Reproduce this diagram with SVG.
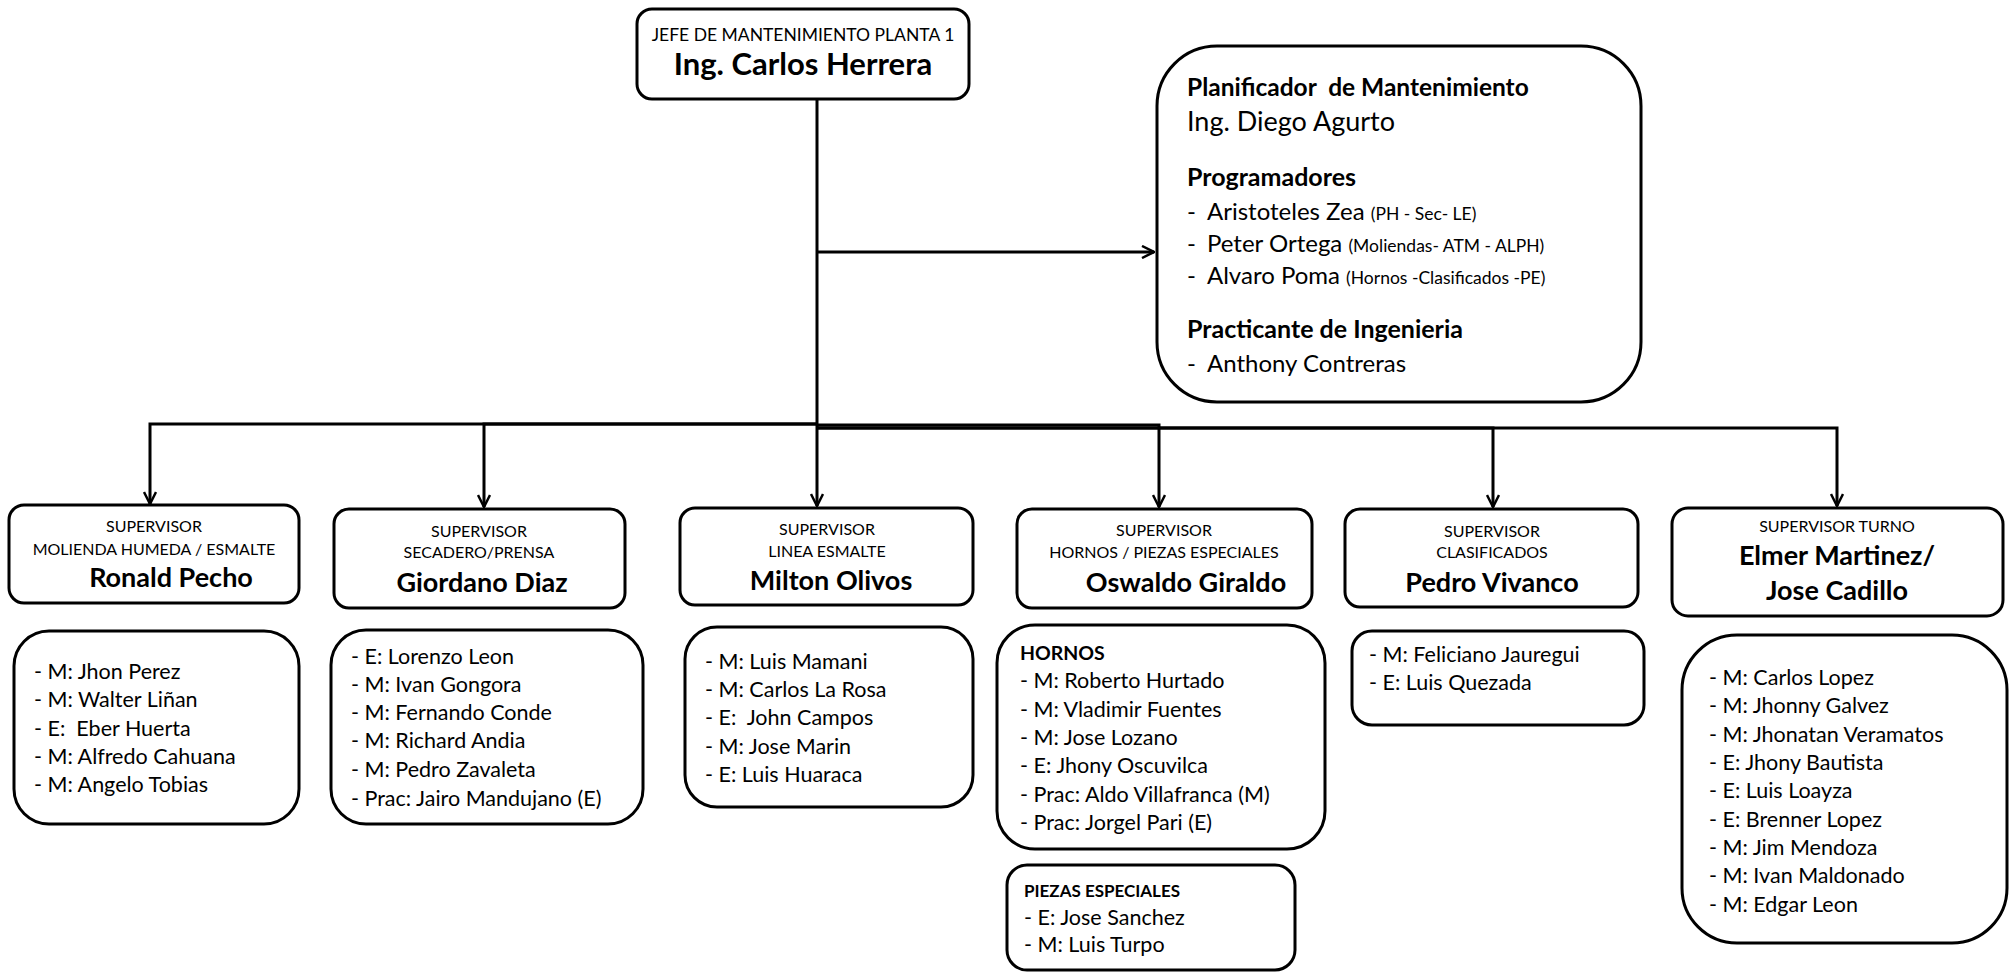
<svg xmlns="http://www.w3.org/2000/svg" width="2015" height="972" viewBox="0 0 2015 972">
<style>
.box{fill:#fff;stroke:#000;stroke-width:3}
.conn{fill:none;stroke:#000;stroke-width:3}
text{font-family:Lato,"Open Sans",sans-serif;fill:#000}
.sm{font-size:16px;text-anchor:middle}
.nm{font-size:27px;font-weight:bold;text-anchor:middle}
.li{font-size:21.5px}
.hd{font-size:19.5px;font-weight:bold}
.pb{font-size:25px;font-weight:bold}
.pr{font-size:24px}
.an{font-size:17.5px}
</style>
<defs>
<marker id="arr" viewBox="0 0 14 14" markerWidth="14" markerHeight="14" refX="13" refY="7" orient="auto" markerUnits="userSpaceOnUse">
<path d="M1,1 L13,7 L1,13" fill="none" stroke="#000" stroke-width="2.5"/>
</marker>
</defs>
<g id="connectors">
<path class="conn" d="M817,100 V506" marker-end="url(#arr)"/>
<path class="conn" d="M817,424 H150 V504" marker-end="url(#arr)"/>
<path class="conn" d="M817,424 H484 V507" marker-end="url(#arr)"/>
<path class="conn" d="M817,425 H1159 V507" marker-end="url(#arr)"/>
<path class="conn" d="M817,428 H1493 V507" marker-end="url(#arr)"/>
<path class="conn" d="M817,428 H1837 V506" marker-end="url(#arr)"/>
<path class="conn" d="M817,252 H1154" marker-end="url(#arr)"/>
</g>
<g id="jefe">
<rect class="box" x="637" y="9" width="332" height="90" rx="15"/>
<text class="sm" x="803" y="41" style="font-size:17.5px">JEFE DE MANTENIMIENTO PLANTA 1</text>
<text class="nm" x="803" y="75" style="font-size:31px">Ing. Carlos Herrera</text>
</g>
<g id="planificador">
<rect class="box" x="1157" y="46" width="484" height="356" rx="60"/>
<text x="1187" y="96" style="font-size:24.5px;font-weight:bold" xml:space="preserve">Planificador  de Mantenimiento</text>
<text x="1187" y="131" style="font-size:27px">Ing. Diego Agurto</text>
<text class="pb" x="1187" y="186">Programadores</text>
<text class="pr" x="1187" y="220">-</text><text class="pr" x="1207" y="220">Aristoteles Zea <tspan class="an">(PH - Sec- LE)</tspan></text>
<text class="pr" x="1187" y="252">-</text><text class="pr" x="1207" y="252">Peter Ortega <tspan class="an">(Moliendas- ATM - ALPH)</tspan></text>
<text class="pr" x="1187" y="284">-</text><text class="pr" x="1207" y="284">Alvaro Poma <tspan class="an">(Hornos -Clasificados -PE)</tspan></text>
<text class="pb" x="1187" y="338">Practicante de Ingenieria</text>
<text class="pr" x="1187" y="372">-</text><text class="pr" x="1207" y="372">Anthony Contreras</text>
</g>
<g id="sup-ronald">
<rect class="box" x="9" y="505" width="290" height="98" rx="15"/>
<text class="sm" x="154" y="532">SUPERVISOR</text>
<text class="sm" x="154" y="555">MOLIENDA HUMEDA / ESMALTE</text>
<text class="nm" x="171" y="587">Ronald Pecho</text>
</g>
<g id="team-ronald">
<rect class="box" x="14" y="631" width="285" height="193" rx="35"/>
<text class="li" x="34" y="679">- M: Jhon Perez</text>
<text class="li" x="34" y="707">- M: Walter Liñan</text>
<text class="li" x="34" y="736" xml:space="preserve">- E:  Eber Huerta</text>
<text class="li" x="34" y="764">- M: Alfredo Cahuana</text>
<text class="li" x="34" y="792">- M: Angelo Tobias</text>
</g>
<g id="sup-giordano">
<rect class="box" x="334" y="509" width="291" height="99" rx="15"/>
<text class="sm" x="479" y="537">SUPERVISOR</text>
<text class="sm" x="479" y="558">SECADERO/PRENSA</text>
<text class="nm" x="482" y="592">Giordano Diaz</text>
</g>
<g id="team-giordano">
<rect class="box" x="331" y="630" width="312" height="194" rx="35"/>
<text class="li" x="351" y="664">- E: Lorenzo Leon</text>
<text class="li" x="351" y="692">- M: Ivan Gongora</text>
<text class="li" x="351" y="720">- M: Fernando Conde</text>
<text class="li" x="351" y="748">- M: Richard Andia</text>
<text class="li" x="351" y="777">- M: Pedro Zavaleta</text>
<text class="li" x="351" y="806">- Prac: Jairo Mandujano (E)</text>
</g>
<g id="sup-milton">
<rect class="box" x="680" y="508" width="293" height="97" rx="15"/>
<text class="sm" x="827" y="535">SUPERVISOR</text>
<text class="sm" x="827" y="557">LINEA ESMALTE</text>
<text class="nm" x="831" y="590">Milton Olivos</text>
</g>
<g id="team-milton">
<rect class="box" x="685" y="627" width="288" height="180" rx="32"/>
<text class="li" x="705" y="669">- M: Luis Mamani</text>
<text class="li" x="705" y="697">- M: Carlos La Rosa</text>
<text class="li" x="705" y="725" xml:space="preserve">- E:  John Campos</text>
<text class="li" x="705" y="754">- M: Jose Marin</text>
<text class="li" x="705" y="782">- E: Luis Huaraca</text>
</g>
<g id="sup-oswaldo">
<rect class="box" x="1017" y="509" width="295" height="99" rx="15"/>
<text class="sm" x="1164" y="536">SUPERVISOR</text>
<text class="sm" x="1164" y="558">HORNOS / PIEZAS ESPECIALES</text>
<text class="nm" x="1186" y="592">Oswaldo Giraldo</text>
</g>
<g id="team-hornos">
<rect class="box" x="997" y="625" width="328" height="224" rx="38"/>
<text class="hd" x="1020" y="660">HORNOS</text>
<text class="li" x="1020" y="688">- M: Roberto Hurtado</text>
<text class="li" x="1020" y="717">- M: Vladimir Fuentes</text>
<text class="li" x="1020" y="745">- M: Jose Lozano</text>
<text class="li" x="1020" y="773">- E: Jhony Oscuvilca</text>
<text class="li" x="1020" y="802">- Prac: Aldo Villafranca (M)</text>
<text class="li" x="1020" y="830">- Prac: Jorgel Pari (E)</text>
</g>
<g id="team-piezas">
<rect class="box" x="1007" y="865" width="288" height="105" rx="20"/>
<text class="hd" x="1024" y="897" style="font-size:17px">PIEZAS ESPECIALES</text>
<text class="li" x="1024" y="925">- E: Jose Sanchez</text>
<text class="li" x="1024" y="952">- M: Luis Turpo</text>
</g>
<g id="sup-pedro">
<rect class="box" x="1345" y="509" width="293" height="98" rx="15"/>
<text class="sm" x="1492" y="537">SUPERVISOR</text>
<text class="sm" x="1492" y="558">CLASIFICADOS</text>
<text class="nm" x="1492" y="592">Pedro Vivanco</text>
</g>
<g id="team-pedro">
<rect class="box" x="1352" y="631" width="292" height="94" rx="20"/>
<text class="li" x="1369" y="662">- M: Feliciano Jauregui</text>
<text class="li" x="1369" y="690">- E: Luis Quezada</text>
</g>
<g id="sup-elmer">
<rect class="box" x="1672" y="508" width="331" height="108" rx="16"/>
<text class="sm" x="1837" y="532">SUPERVISOR TURNO</text>
<text class="nm" x="1837" y="565">Elmer Martinez/</text>
<text class="nm" x="1837" y="600">Jose Cadillo</text>
</g>
<g id="team-elmer">
<rect class="box" x="1682" y="635" width="325" height="308" rx="55"/>
<text class="li" x="1709" y="685">- M: Carlos Lopez</text>
<text class="li" x="1709" y="713">- M: Jhonny Galvez</text>
<text class="li" x="1709" y="742">- M: Jhonatan Veramatos</text>
<text class="li" x="1709" y="770">- E: Jhony Bautista</text>
<text class="li" x="1709" y="798">- E: Luis Loayza</text>
<text class="li" x="1709" y="827">- E: Brenner Lopez</text>
<text class="li" x="1709" y="855">- M: Jim Mendoza</text>
<text class="li" x="1709" y="883">- M: Ivan Maldonado</text>
<text class="li" x="1709" y="912">- M: Edgar Leon</text>
</g>
</svg>
